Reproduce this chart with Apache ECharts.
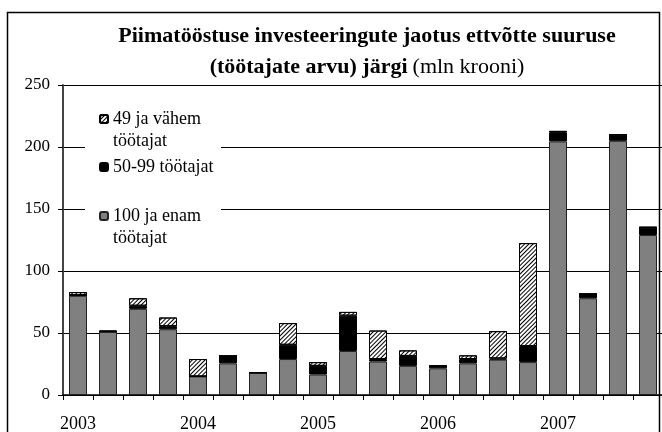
<!DOCTYPE html>
<html>
<head>
<meta charset="utf-8">
<script src="https://cdn.jsdelivr.net/npm/echarts@6/dist/echarts.min.js"></script>
<style>html,body{margin:0;padding:0;background:#fff}#c{width:662px;height:432px}</style>
</head>
<body>
<div id="c"></div>
<script>
// quarters 2003 Q1 ... 2007 Q4
var categories = ['2003 I','2003 II','2003 III','2003 IV','2004 I','2004 II','2004 III','2004 IV',
  '2005 I','2005 II','2005 III','2005 IV','2006 I','2006 II','2006 III','2006 IV',
  '2007 I','2007 II','2007 III','2007 IV'];
var tickLabels = ['2003','','','','2004','','','','2005','','','','2006','','','','2007','','',''];
var seriesNames = ['100 ja enam töötajat', '50-99 töötajat', '49 ja vähem töötajat'];
var large = [80, 51, 69.5, 53, 15, 25.5, 18, 29, 16.5, 35.5, 27, 23.5, 21.5, 25.5, 28.5, 26.5, 204.5, 78, 205, 129];
var medium = [0.5, 0, 2.5, 2.5, 0, 6, 0, 11.5, 7, 28.5, 2, 8, 2, 3.5, 1, 13, 7.5, 3.5, 5, 6];
var small = [2.5, 1, 6, 7, 14, 0, 0, 17.5, 3, 3, 23, 4.5, 0, 3, 22, 83, 1, 0, 0, 0.5];

var serif = '"Liberation Serif", "Times New Roman", serif';
var chart = echarts.init(document.getElementById('c'));
function legendCfg(name, top, twoLine) {
  return {
    data: [name], orient: 'vertical', left: 99, top: top, padding: 0,
    itemWidth: 8, itemHeight: 8, itemGap: 0, selectedMode: false,
    formatter: function (n) { return twoLine ? '\n' + n.replace(' töötajat', '\ntöötajat') : n; },
    textStyle: { fontFamily: serif, fontSize: 18, color: '#000', lineHeight: 22 }
  };
}
chart.setOption({
  animation: false,
  backgroundColor: '#fff',
  title: {
    left: 362, top: 16, textAlign: 'center',
    text: '{b|Piimatööstuse investeeringute jaotus ettvõtte suuruse}\n{b|(töötajate arvu) järgi} {n|(mln krooni)}',
    textStyle: {
      rich: {
        b: { fontFamily: serif, fontWeight: 'bold', fontSize: 22, color: '#000', lineHeight: 31 },
        n: { fontFamily: serif, fontWeight: 'normal', fontSize: 22, color: '#000', lineHeight: 31 }
      }
    }
  },
  legend: [
    legendCfg(seriesNames[2], 86, true),
    legendCfg(seriesNames[1], 156, false),
    legendCfg(seriesNames[0], 183, true)
  ],
  graphic: [
    { type: 'rect', z: 1, silent: true, shape: { x: 85, y: 95, width: 136, height: 160 }, style: { fill: '#fff' } },
    { type: 'rect', z: 10, silent: true, shape: { x: 7.5, y: 12.5, width: 652, height: 440 }, style: { fill: null, stroke: '#000', lineWidth: 1.5 } }
  ],
  grid: { left: 63, top: 85, width: 600, height: 310, outerBoundsMode: 'none', containLabel: false },
  xAxis: {
    type: 'category', data: categories,
    axisLine: { lineStyle: { color: '#000', width: 1.5 } },
    axisTick: { show: true, length: 5, lineStyle: { color: '#000' } },
    axisLabel: {
      interval: 0, margin: 20,
      formatter: function (v, i) { return tickLabels[i]; },
      fontFamily: serif, fontSize: 18, color: '#000'
    }
  },
  yAxis: {
    type: 'value', min: 0, max: 250, interval: 50,
    axisLine: { show: true, lineStyle: { color: '#444', width: 2 } },
    axisTick: { show: true, length: 5, lineStyle: { color: '#000' } },
    axisLabel: { margin: 13, fontFamily: serif, fontSize: 17, color: '#000' },
    splitLine: { lineStyle: { color: '#000', width: 1 } }
  },
  series: [
    { name: seriesNames[0], type: 'bar', stack: 's', barWidth: 18, data: large,
      itemStyle: { color: '#808080', borderColor: '#222', borderWidth: 1 } },
    { name: seriesNames[1], type: 'bar', stack: 's', barWidth: 18, data: medium,
      itemStyle: { color: '#000', borderColor: '#000', borderWidth: 1 } },
    { name: seriesNames[2], type: 'bar', stack: 's', barWidth: 18, data: small,
      itemStyle: { color: '#fff', borderColor: '#000', borderWidth: 1,
        decal: { symbol: 'rect', symbolSize: 1, symbolKeepAspect: false, color: '#000',
          dashArrayX: [[1, 0]], dashArrayY: [1, 2], rotation: -Math.PI / 4 } } }
  ]
});
</script>
</body>
</html>
